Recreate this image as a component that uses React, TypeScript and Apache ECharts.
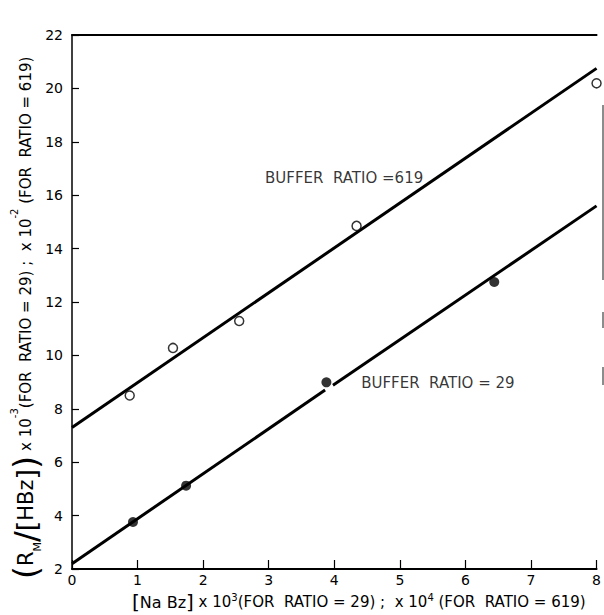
import React, { useEffect, useRef } from "react";
import * as echarts from "echarts";

// Measured points (open circles: buffer ratio 619, filled: buffer ratio 29)
const ratio619X = [0.88, 1.54, 2.55, 4.34, 8.0];
const ratio619Y = [8.5, 10.28, 11.29, 14.85, 20.19];
const ratio29X = [0.93, 1.74, 3.88, 6.44];
const ratio29Y = [3.76, 5.12, 8.99, 12.75];

// Fitted straight lines (end points)
const fit619X = [0, 8];
const fit619Y = [7.3, 20.75];
const fit29aX = [0, 3.86];
const fit29aY = [2.2, 8.7];
const fit29bX = [3.98, 8];
const fit29bY = [8.88, 15.6];

// Annotation labels (centre positions in data units)
const labelTexts = ["BUFFER  RATIO =619", "BUFFER  RATIO = 29"];
const labelX = [4.15, 5.58];
const labelY = [16.64, 8.97];

const xTickMin = 0;
const xTickMax = 8;
const yTickMin = 2;
const yTickMax = 22;

const FONT = "DejaVu Sans";

const zip = (xs: number[], ys: number[]) => xs.map((x, i) => [x, ys[i]]);

export default function App() {
  const ref = useRef<HTMLDivElement>(null);
  useEffect(() => {
    if (!ref.current) return;
    const chart = echarts.init(ref.current, null, { renderer: "svg" });
    const lineStyle = { color: "#000", width: 3 };
    const option: any = {
      animation: false,
      backgroundColor: "#fff",
      grid: { left: 72, right: 0, top: 35, bottom: 46, containLabel: false },
      xAxis: [
        {
          type: "value",
          min: xTickMin,
          max: xTickMax,
          interval: 1,
          axisLine: { show: true, lineStyle: { color: "#000", width: 2 } },
          axisTick: { show: true, inside: true, length: 9, lineStyle: { color: "#000", width: 1.2 } },
          axisLabel: { color: "#000", fontSize: 14, fontFamily: FONT, margin: 4, showMaxLabel: true },
          splitLine: { show: false },
        },
        {
          type: "value",
          position: "top",
          min: xTickMin,
          max: xTickMax,
          axisLine: { show: true, lineStyle: { color: "#000", width: 2 } },
          axisTick: { show: false },
          axisLabel: { show: false },
          splitLine: { show: false },
        },
      ],
      yAxis: {
        type: "value",
        min: yTickMin,
        max: yTickMax,
        interval: 2,
        axisLine: { show: true, lineStyle: { color: "#000", width: 1.5 } },
        axisTick: { show: true, inside: true, length: 7, lineStyle: { color: "#000", width: 1.2 } },
        axisLabel: { color: "#000", fontSize: 14, fontFamily: FONT, margin: 9 },
        splitLine: { show: false },
      },
      series: [
        { type: "line", data: zip(fit619X, fit619Y), symbol: "none", lineStyle, z: 2 },
        { type: "line", data: zip(fit29aX, fit29aY), symbol: "none", lineStyle, z: 2 },
        { type: "line", data: zip(fit29bX, fit29bY), symbol: "none", lineStyle, z: 2 },
        {
          type: "scatter",
          data: zip(ratio619X, ratio619Y),
          symbol: "circle",
          symbolSize: 9,
          clip: false,
          itemStyle: { color: "#fff", borderColor: "#000", borderWidth: 1.5 },
          z: 3,
        },
        {
          type: "scatter",
          data: zip(ratio29X, ratio29Y),
          symbol: "circle",
          symbolSize: 10,
          itemStyle: { color: "#000" },
          z: 3,
        },
        {
          type: "scatter",
          data: labelTexts.map((t, i) => ({ value: [labelX[i], labelY[i]], name: t })),
          symbolSize: 0,
          silent: true,
          label: {
            show: true,
            position: "inside",
            formatter: (p: any) => p.name,
            color: "#000",
            fontSize: 15,
            fontFamily: FONT,
          },
          z: 4,
        },
      ],
      graphic: [
        {
          type: "text",
          x: 132,
          y: 602,
          style: {
            text:
              "{br|[}{big|Na Bz}{br|]}{t| x 10}{sup|3}{t|(FOR  RATIO = 29) ;  x 10}{sup|4}{t| (FOR  RATIO = 619)}",
            align: "left",
            verticalAlign: "middle",
            fill: "#000",
            rich: {
              br: { fontSize: 20, fontFamily: FONT, fill: "#000" },
              big: { fontSize: 16, fontFamily: FONT, fill: "#000" },
              t: { fontSize: 15, fontFamily: FONT, fill: "#000" },
              sup: { fontSize: 10, fontFamily: FONT, fill: "#000", verticalAlign: "top" },
            },
          },
        },
        {
          type: "text",
          x: 26,
          y: 318,
          rotation: Math.PI / 2,
          style: {
            text:
              "{p|(}{big|R}{sub|M}{sl|/}{br|[}{big|HBz}{br|]}{p|)}{t| x 10}{sup|-3}{t|(FOR  RATIO = 29) ;  x 10}{sup|-2}{t| (FOR  RATIO = 619)}",
            align: "center",
            verticalAlign: "middle",
            fill: "#000",
            rich: {
              p: { fontSize: 34, fontFamily: FONT, fill: "#000" },
              br: { fontSize: 27, fontFamily: FONT, fill: "#000" },
              sl: { fontSize: 32, fontFamily: FONT, fill: "#000" },
              big: { fontSize: 21, fontFamily: FONT, fill: "#000" },
              sub: { fontSize: 11, fontFamily: FONT, fill: "#000", verticalAlign: "bottom" },
              t: { fontSize: 15, fontFamily: FONT, fill: "#000" },
              sup: { fontSize: 10, fontFamily: FONT, fill: "#000", verticalAlign: "top" },
            },
          },
        },
        {
          type: "line",
          shape: { x1: 603, y1: 105, x2: 603, y2: 280 },
          style: { stroke: "#666", lineWidth: 1.5 },
        },
        {
          type: "line",
          shape: { x1: 603, y1: 312, x2: 603, y2: 328 },
          style: { stroke: "#666", lineWidth: 1.5 },
        },
        {
          type: "line",
          shape: { x1: 603, y1: 367, x2: 603, y2: 385 },
          style: { stroke: "#666", lineWidth: 1.5 },
        },
      ],
    };
    chart.setOption(option);
    return () => chart.dispose();
  }, []);
  return (
    <div
      ref={ref}
      style={{ position: "absolute", left: 0, top: 0, width: 604, height: 615, background: "#fff" }}
    />
  );
}
